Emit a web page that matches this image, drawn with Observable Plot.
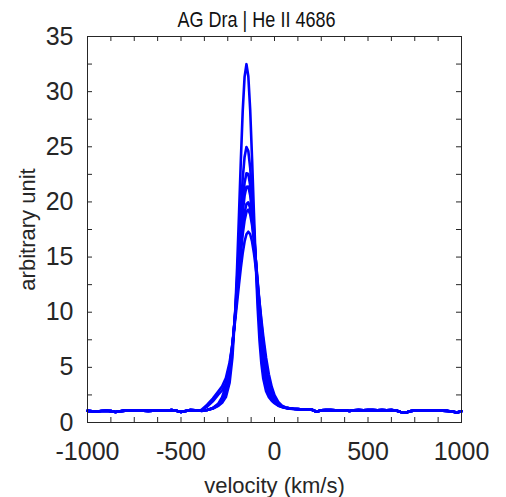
<!DOCTYPE html>
<html><head><meta charset="utf-8">
<script src="https://cdn.jsdelivr.net/npm/d3@7"></script>
<script src="https://cdn.jsdelivr.net/npm/@observablehq/plot@0.6"></script>
<style>body{margin:0;background:#fff}</style>
</head><body><div id="chart"></div>
<script>
const titleText = "AG Dra | He II 4686";
const xLabelText = "velocity (km/s)";
const yLabelText = "arbitrary unit";

const xTickLabels = [-1000, -500, 0, 500, 1000];
const xTicks = [-1000,-875,-750,-625,-500,-375,-250,-125,0,125,250,375,500,625,750,875,1000];
const yTickLabels = [0, 5, 10, 15, 20, 25, 30, 35];
const yTicks = [0,2.5,5,7.5,10,12.5,15,17.5,20,22.5,25,27.5,30,32.5,35];

// shared continuum, blue side
const leftVel = [-1000,-975,-950,-925,-900,-875,-850,-825,-800,-775,-750,-725,-700,-675,-650,-625,-600,-575,-550,-525,-500,-475,-450,-425,-400];
const leftFlux = [1.05,1.02,1.00,1.04,1.06,1.03,0.95,1.02,1.08,1.10,1.09,1.10,1.08,1.05,1.07,1.09,1.06,1.08,1.12,1.06,0.96,1.05,1.12,1.10,1.08];

// line core, per spectrum
const coreVel = [-390,-360,-330,-300,-280,-260,-240,-225,-210,-200,-190,-180,-170,-160,-150,-140,-130,-120,-110,-100,-90,-80,-70,-60,-45,-30,-15,0,20,40,60,80,100,125];
const spec1 = [1.05,1.13,1.27,1.52,1.79,2.30,3.62,5.91,10.08,14.05,18.78,23.77,28.23,31.34,32.49,31.40,28.35,23.94,19.01,14.32,10.37,7.38,5.31,3.96,2.84,2.30,1.98,1.75,1.52,1.40,1.31,1.26,1.23,1.20];
const spec2 = [1.05,1.13,1.27,1.55,1.90,2.64,4.30,6.60,10.08,12.99,16.18,19.35,22.12,24.08,24.97,24.61,23.10,20.66,17.65,14.46,11.43,8.80,6.68,5.08,3.49,2.61,2.09,1.79,1.54,1.40,1.32,1.27,1.23,1.20];
const spec3 = [1.06,1.14,1.30,1.61,2.03,2.88,4.60,6.80,9.91,12.41,15.09,17.73,20.03,21.74,22.60,22.53,21.52,19.72,17.34,14.72,12.07,9.64,7.56,5.88,4.08,2.96,2.30,1.90,1.60,1.42,1.33,1.27,1.24,1.21];
const spec4 = [1.06,1.14,1.30,1.63,2.09,3.00,4.77,6.91,9.84,12.13,14.56,16.94,19.00,20.56,21.38,21.40,20.60,19.09,17.04,14.70,12.28,10.00,7.98,6.29,4.40,3.17,2.42,1.96,1.62,1.43,1.33,1.28,1.24,1.21];
const spec5 = [1.11,1.44,1.92,2.54,2.91,3.55,5.08,7.01,9.67,11.70,13.81,15.86,17.65,19.02,19.82,19.97,19.44,18.30,16.68,14.73,12.64,10.56,8.65,6.98,4.97,3.59,2.68,2.11,1.68,1.45,1.34,1.28,1.24,1.21];
const spec6 = [1.06,1.14,1.32,1.73,2.29,3.33,5.13,7.13,9.66,11.56,13.52,15.41,17.06,18.33,19.10,19.30,18.87,17.90,16.48,14.73,12.80,10.85,9.01,7.36,5.32,3.85,2.85,2.21,1.72,1.46,1.35,1.29,1.25,1.22];
const spec7 = [1.16,1.61,2.17,2.84,3.28,4.02,5.47,7.12,9.31,10.89,12.50,14.02,15.36,16.41,17.07,17.30,17.07,16.41,15.36,14.02,12.50,10.89,9.31,7.81,5.87,4.35,3.24,2.48,1.86,1.52,1.36,1.29,1.25,1.22];

// shared continuum, red side
const rightVel = [150,175,200,225,250,275,300,325,350,375,400,425,450,475,500,525,550,575,600,625,650,675,700,725,750,775,800,825,850,875,900,925,950,975,1000];
const rightFlux = [1.18,1.17,1.15,0.98,1.10,1.13,1.12,1.10,1.08,1.11,1.05,1.10,1.12,1.10,1.13,1.12,1.10,1.12,1.11,1.13,1.08,0.95,0.88,1.02,1.10,1.08,1.11,1.10,1.08,1.10,1.07,1.05,1.00,0.90,1.02];

const spectra = [spec1, spec2, spec3, spec4, spec5, spec6, spec7];
const rows = [];
spectra.forEach((vals, i) => {
  leftVel.forEach((v, j) => rows.push({v, f: leftFlux[j], s: i}));
  coreVel.forEach((v, j) => rows.push({v, f: vals[j], s: i}));
  rightVel.forEach((v, j) => rows.push({v, f: rightFlux[j], s: i}));
});

const ink = "#262626";
const W = 506, H = 497, mT = 36, mB = 75, mL = 87, mR = 45;
const tick = 5;
const plotH = H - mT - mB, plotW = W - mL - mR;
const sans = "'Liberation Sans', Arial, Helvetica, sans-serif";

const chart = Plot.plot({
  width: W, height: H,
  marginTop: mT, marginBottom: mB, marginLeft: mL, marginRight: mR,
  x: {domain: [-1000, 1000], axis: null},
  y: {domain: [0, 35], axis: null},
  style: {fontFamily: sans, color: ink, background: "#fff", overflow: "visible"},
  marks: [
    Plot.line(rows, {x: "v", y: "f", z: "s", stroke: "#0000ff", strokeWidth: 2.6}),
    Plot.frame({stroke: ink, strokeWidth: 1}),
    Plot.tickX(xTicks, {x: d => d, stroke: ink, insetTop: plotH - tick}),
    Plot.tickX(xTicks, {x: d => d, stroke: ink, insetBottom: plotH - tick}),
    Plot.tickY(yTicks, {y: d => d, stroke: ink, insetRight: plotW - tick}),
    Plot.tickY(yTicks, {y: d => d, stroke: ink, insetLeft: plotW - tick}),
    Plot.text(xTickLabels, {x: d => d, text: d => String(d), frameAnchor: "bottom", lineAnchor: "top", dy: 20, fontSize: 25, fill: ink}),
    Plot.text(yTickLabels, {y: d => d, text: d => String(d), frameAnchor: "left", textAnchor: "end", dx: -14, fontSize: 25, fill: ink}),
    Plot.text([xLabelText], {text: d => d, frameAnchor: "bottom", lineAnchor: "bottom", dy: 70, fontSize: 22, fill: ink}),
    Plot.text([yLabelText], {text: d => d, frameAnchor: "left", textAnchor: "middle", rotate: -90, dx: -60, fontSize: 22, fill: ink}),
    Plot.text([titleText], {text: d => d, frameAnchor: "top", lineAnchor: "bottom", dx: -18, dy: -9.5, fontSize: 22, fill: "#111"})
  ]
});
// condensed title lettering: squeeze horizontally about its anchor
const groups = chart.querySelectorAll('g[aria-label="text"]');
const titleEl = groups[groups.length - 1].querySelector("text");
if (titleEl) {
  const tr = titleEl.getAttribute("transform");
  if (tr) {
    titleEl.setAttribute("transform", tr + " scale(0.82,1)");
  } else {
    const x = +titleEl.getAttribute("x") || 0, y = +titleEl.getAttribute("y") || 0;
    titleEl.setAttribute("transform", `translate(${x},${y}) scale(0.82,1) translate(${-x},${-y})`);
  }
}
document.getElementById("chart").appendChild(chart);
</script>
</body></html>
